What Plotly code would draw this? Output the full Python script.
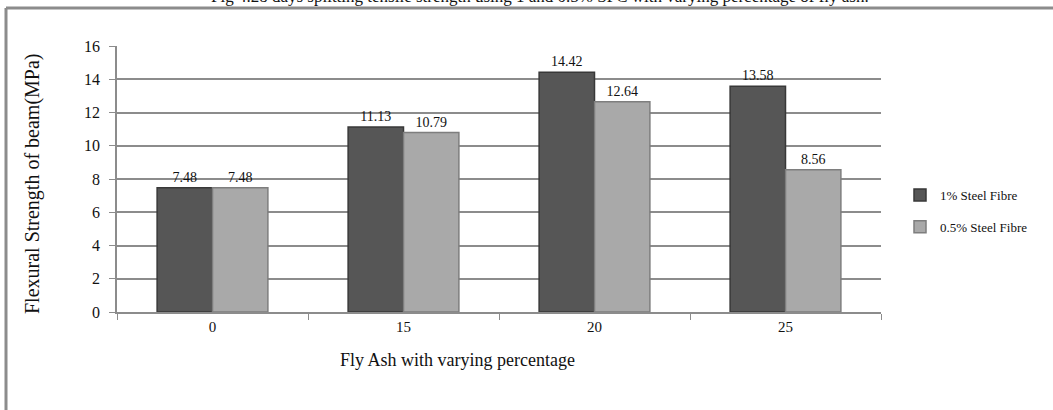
import plotly.graph_objects as go

# Fly ash replacement levels (%) and flexural strength of beams (MPa)
fly_ash = ["0", "15", "20", "25"]
fibre_1 = [7.48, 11.13, 14.42, 13.58]
fibre_05 = [7.48, 10.79, 12.64, 8.56]
series_names = ["1% Steel Fibre", "0.5% Steel Fibre"]
y_ticks = [0, 2, 4, 6, 8, 10, 12, 14, 16]

SERIF = "Liberation Serif, Times New Roman, serif"
GRID = "#8c8c8c"

# plot-area geometry in pixels, used to place frame and captions
W, H = 1053, 410
L, R, T, B = 117, 881, 46, 312


def px_x(p):
    return (p - L) / (R - L)


def px_y(p):
    return (B - p) / (B - T)


fig = go.Figure()
fig.add_trace(go.Bar(
    name=series_names[0], x=fly_ash, y=fibre_1, legendgroup="a",
    marker=dict(color="#565656", line=dict(color="#383838", width=1.5)),
    text=[f"{v:.2f}" for v in fibre_1], textposition="outside",
    textfont=dict(family=SERIF, size=14, color="#111"), cliponaxis=False,
))
fig.add_trace(go.Bar(
    name=series_names[1], x=fly_ash, y=fibre_05, legendgroup="b",
    marker=dict(color="#a9a9a9", line=dict(color="#7e7e7e", width=1.5)),
    text=[f"{v:.2f}" for v in fibre_05], textposition="outside",
    textfont=dict(family=SERIF, size=14, color="#111"), cliponaxis=False,
))

fig.update_layout(
    width=W, height=H,
    margin=dict(l=L, r=W - R, t=T, b=H - B, pad=0, autoexpand=False),
    paper_bgcolor="white", plot_bgcolor="white",
    barmode="group", bargap=0.42, bargroupgap=0.0,
    font=dict(family=SERIF, size=13, color="#111"),
    showlegend=True,
    legend=dict(x=px_x(900), y=px_y(180), xanchor="left", yanchor="top",
                font=dict(family=SERIF, size=13, color="#111"),
                tracegroupgap=12, itemwidth=30, bgcolor="rgba(0,0,0,0)"),
    xaxis=dict(
        type="category", showline=True, linecolor=GRID, linewidth=1.5,
        ticks="outside", tickson="boundaries", ticklen=6, tickcolor=GRID,
        tickfont=dict(family=SERIF, size=15, color="#111"),
        showgrid=False,
    ),
    yaxis=dict(
        range=[0, 16], tickvals=y_ticks, showline=True, linecolor=GRID,
        linewidth=1.5, ticks="outside", ticklen=6, tickcolor=GRID,
        ticklabelstandoff=6,
        showgrid=True, gridcolor=GRID, gridwidth=1.5, zeroline=False,
        tickfont=dict(family=SERIF, size=16, color="#111"),
    ),
)

# outer frame (top and left edges visible)
fig.add_shape(type="line", xref="paper", yref="paper",
              x0=px_x(6), x1=px_x(1060), y0=px_y(8), y1=px_y(8),
              line=dict(color=GRID, width=3))
fig.add_shape(type="line", xref="paper", yref="paper",
              x0=px_x(6), x1=px_x(6), y0=px_y(8), y1=px_y(420),
              line=dict(color=GRID, width=3))

# y axis title
fig.add_annotation(text="Flexural Strength of beam(MPa)", xref="paper", yref="paper",
                   x=px_x(32), y=px_y(184), xanchor="center", yanchor="middle",
                   showarrow=False, textangle=-90,
                   font=dict(family=SERIF, size=20, color="#111"))

# x axis title
fig.add_annotation(text="Fly Ash with varying percentage", xref="paper", yref="paper",
                   x=px_x(457), y=px_y(360), xanchor="center", yanchor="middle",
                   showarrow=False, font=dict(family=SERIF, size=18, color="#111"))

# figure caption running off the top edge
fig.add_annotation(
    text="Fig 4.28 days splitting tensile strength using 1 and 0.5% SFC with varying percentage of fly ash.",
    xref="paper", yref="paper", x=px_x(540), y=px_y(8), yanchor="bottom",
    showarrow=False, font=dict(family=SERIF, size=17, color="#111"))

fig.write_html("out.html")
